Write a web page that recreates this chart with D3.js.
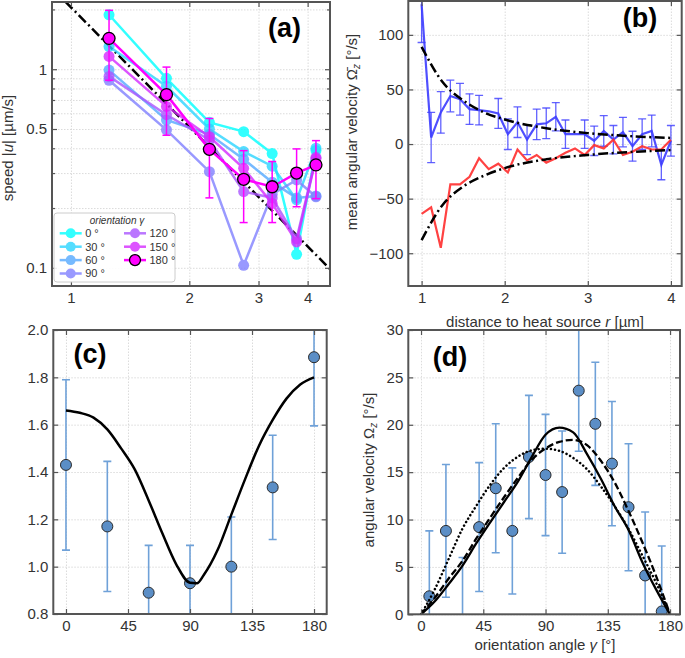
<!DOCTYPE html>
<html>
<head>
<meta charset="utf-8">
<script src="https://cdn.jsdelivr.net/npm/d3@7"></script>
<style>
  body { margin: 0; background: #fff; }
  svg text { font-family: "Liberation Sans", Arial, Helvetica, sans-serif; }
</style>
</head>
<body>
<svg id="fig" width="685" height="658"></svg>
<script>
// ---------- (a) speed vs distance, one list per orientation ----------
var orientA = [0, 30, 60, 90, 120, 150, 180]
var rA = [1.25, 1.75, 2.25, 2.75, 3.25, 3.75, 4.2]
var speed0   = [1.88, 0.90, 0.54, 0.485, 0.376, 0.117, 0.39]
var speed30  = [1.30, 0.82, 0.50, 0.385, 0.325, 0.22, 0.40]
var speed60  = [0.99, 0.555, 0.47, 0.352, 0.27, 0.225, 0.23]
var speed90  = [0.88, 0.495, 0.305, 0.103, 0.235, 0.277, 0.228]
var speed120 = [0.92, 0.59, 0.44, 0.242, 0.225, 0.14, 0.36]
var speed150 = [1.16, 0.65, 0.457, 0.317, 0.211, 0.135, 0.355]
var speed180 = [1.43, 0.745, 0.395, 0.279, 0.256, 0.30, 0.33]
var speed180Err = [0.55, 0.28, 0.17, 0.11, 0.087, 0.097, 0.107]
var fitRA = [0.895, 4.56]
var fitSpeed = [2.56, 0.0986]

// ---------- (b) mean angular velocity vs distance ----------
var rB = [1.000, 1.115, 1.231, 1.346, 1.462, 1.577, 1.692, 1.808, 1.923, 2.038, 2.154, 2.269, 2.385, 2.500,
          2.615, 2.731, 2.846, 2.962, 3.077, 3.192, 3.308, 3.423, 3.538, 3.654, 3.769, 3.885, 4.000]
var omegaBlue = [128, 6, 29, 44, 41, 32, 31, 30, 28, 9, 20, 4, 18, 19, 25, 9, 9, 9, 3, 12, 4, 11, -2, 9, 12, -19, 3]
var omegaBlueErr = [35, 23, 19, 14.5, 14.5, 14, 13.5, null, 13.7, 14, 14, 13.7, 14, 14, 13, 13, null, 13, 13.5, 14, 13, 13.5, 13.7, 14, 14.5, 13.7, 14]
var omegaRed = [-64, -58, -95, -37, -37, -30, -13, -23, -18, -26, -5, -15, -10, -17, -13, -8, -4, -10, -1, -4, 4, -10, -7, -2, -5, -5, 4]
var fitRB = [1, 1.25, 1.5, 1.75, 2, 2.5, 3, 3.5, 4]
var fitBlue = [89, 57, 40, 29, 22.5, 14.5, 10, 7.3, 5.6]
var fitRed = [-88, -56, -39, -29, -22, -14, -10, -7.3, -5.5]

// ---------- (c) ----------
var gammaC = [0, 30, 60, 90, 120, 150, 180]
var valueC = [1.43, 1.17, 0.89, 0.93, 1.00, 1.335, 1.885]
var valueCErr = [0.36, 0.275, 0.20, 0.16, 0.21, 0.22, 0.29]
var fitGammaC = [0, 10, 20, 30, 40, 50, 60, 70, 80, 90, 95, 100, 110, 120, 130, 140, 150, 160, 170, 180]
var fitC = [1.66, 1.65, 1.63, 1.58, 1.50, 1.41, 1.28, 1.14, 1.01, 0.932, 0.93, 0.965, 1.07, 1.22, 1.37, 1.51, 1.62, 1.71, 1.77, 1.80]

// ---------- (d) angular velocity vs orientation ----------
var gammaD = [6, 18, 30, 42, 54, 66, 78, 90, 102, 114, 126, 138, 150, 162, 174]
var omegaD = [1.9, 8.8, -1.0, 9.2, 13.3, 8.8, 16.6, 14.7, 12.9, 23.6, 20.1, 15.9, 11.3, 4.1, 0.3]
var omegaDErr = [6.9, 7.0, 7.0, 6.8, 6.8, 6.65, 6.5, 6.4, 6.45, 6.4, 6.5, 6.55, 6.7, 6.7, 6.9]
var fitGammaD = [0, 10, 20, 30, 40, 50, 60, 70, 80, 90, 100, 110, 120, 130, 140, 150, 160, 170, 180]
var fitSolid  = [0, 1.37, 3.2, 5.14, 7.5, 9.7, 11.85, 14.0, 16.6, 18.95, 19.7, 19.2, 16.9, 14.3, 11.4, 8.9, 5.5, 2.6, 0]
var fitDashed = [0, 1.75, 3.78, 5.64, 8.0, 10.2, 12.35, 14.4, 16.3, 17.5, 18.2, 18.4, 17.85, 16.2, 13.9, 10.9, 7.6, 4.0, 0]
var fitDotted = [0, 2.65, 5.85, 9.05, 11.46, 13.67, 15.44, 16.63, 17.3, 17.47, 17.25, 16.5, 15.3, 13.5, 11.4, 9.0, 6.2, 3.3, 0]

var svg = d3.select('#fig')
var textCol = '#333'
var dashDot = '10,3.5,2,3.5'

function zip(a, b) { return a.map((v, i) => [v, b[i]]) }

function makeClip(id, x, y) {
  svg.append('clipPath').attr('id', id).append('rect')
    .attr('x', x.range()[0]).attr('y', y.range()[1])
    .attr('width', x.range()[1] - x.range()[0]).attr('height', y.range()[0] - y.range()[1])
}

// dotted grid lines through the axis generator
function grid(x, y, xs, ys) {
  var g = svg.append('g')
  var w = x.range()[1] - x.range()[0], h = y.range()[0] - y.range()[1]
  g.append('g').attr('transform', 'translate(0,' + y.range()[0] + ')')
    .call(d3.axisBottom(x).tickValues(xs).tickSize(-h).tickFormat(''))
  g.append('g').attr('transform', 'translate(' + x.range()[0] + ',0)')
    .call(d3.axisLeft(y).tickValues(ys).tickSize(-w).tickFormat(''))
  g.selectAll('.domain').remove()
  g.selectAll('line').attr('stroke', '#d2d2d2').attr('stroke-width', 0.8).attr('stroke-dasharray', '1.5,1.5')
}

// inward ticks on all four sides, labels on bottom/left, then the frame
function frame(x, y, o) {
  var g = svg.append('g').attr('color', '#555')
  var l = x.range()[0], r = x.range()[1], b = y.range()[0], t = y.range()[1]
  var sides = [
    [d3.axisBottom, 'translate(0,' + b + ')', x, o.xTicks, o.xFmt, o.xMinor],
    [d3.axisTop, 'translate(0,' + t + ')', x, o.xTicks, null, o.xMinor],
    [d3.axisLeft, 'translate(' + l + ',0)', y, o.yTicks, o.yFmt, o.yMinor],
    [d3.axisRight, 'translate(' + r + ',0)', y, o.yTicks, null, o.yMinor]
  ]
  sides.forEach(function(s) {
    var ax = s[0](s[2]).tickValues(s[3]).tickSize(-5).tickPadding(s[0] === d3.axisBottom ? 6 : 5)
    ax.tickFormat(s[4] ? s[4] : '')
    var a = g.append('g').attr('transform', s[1]).call(ax)
    a.attr('font-size', 15).attr('font-family', '"Liberation Sans", Arial, sans-serif')
    a.select('.domain').remove()
    a.selectAll('text').attr('fill', textCol)
    if (s[5]) {
      var m = g.append('g').attr('transform', s[1]).call(s[0](s[2]).tickValues(s[5]).tickSize(-3).tickFormat(''))
      m.select('.domain').remove()
    }
  })
  g.selectAll('line').attr('stroke-width', 1.2)
  g.append('rect').attr('x', l).attr('y', t).attr('width', r - l).attr('height', b - t)
    .attr('fill', 'none').attr('stroke', '#555').attr('stroke-width', 2)
}

function errBars(g, xs, ys, es, x, y, color, cap, width) {
  xs.forEach(function(xv, i) {
    if (es[i] == null) return
    var cx = x(xv), y1 = y(ys[i] - es[i]), y2 = y(ys[i] + es[i])
    g.append('line').attr('x1', cx).attr('x2', cx).attr('y1', y1).attr('y2', y2)
      .attr('stroke', color).attr('stroke-width', width)
    ;[y1, y2].forEach(function(yy) {
      g.append('line').attr('x1', cx - cap / 2).attr('x2', cx + cap / 2).attr('y1', yy).attr('y2', yy)
        .attr('stroke', color).attr('stroke-width', width)
    })
  })
}

function panelLabel(txt, cx, by) {
  svg.append('text').attr('x', cx).attr('y', by).attr('text-anchor', 'middle')
    .attr('font-size', 27).attr('font-weight', 'bold').attr('fill', '#000').text(txt)
}

// =================== (a) ===================
var xA = d3.scaleLog().domain([0.895, 4.56]).range([52, 330])
var yA = d3.scaleLog().domain([0.081, 2.18]).range([286, 2])
makeClip('clipA', xA, yA)
grid(xA, yA, [1, 2, 3, 4], [0.1, 0.2, 0.3, 0.4, 0.5, 0.6, 0.7, 0.8, 0.9, 1, 2])

var speeds = [speed0, speed30, speed60, speed90, speed120, speed150, speed180]
function coolColor(t) { return d3.rgb(255 * t, 255 * (1 - t), 255).toString() }
var gA = svg.append('g').attr('clip-path', 'url(#clipA)')
var lineA = d3.line().x(d => xA(d[0])).y(d => yA(d[1]))

gA.append('path').datum(zip(fitRA, fitSpeed)).attr('d', lineA)
  .attr('fill', 'none').attr('stroke', '#000').attr('stroke-width', 2.5).attr('stroke-dasharray', dashDot)

speeds.forEach(function(s, k) {
  var col = coolColor(k / 6), last = k === 6
  var sg = gA.append('g').attr('opacity', last ? 1 : 0.8)
  if (last) errBars(sg, rA, s, speed180Err, xA, yA, '#ff00ff', 8, 1.5)
  sg.append('path').datum(zip(rA, s)).attr('d', lineA)
    .attr('fill', 'none').attr('stroke', col).attr('stroke-width', 2.5)
  sg.selectAll('circle').data(zip(rA, s)).join('circle')
    .attr('cx', d => xA(d[0])).attr('cy', d => yA(d[1])).attr('r', last ? 6 : 5.5)
    .attr('fill', col).attr('stroke', last ? '#000' : 'none').attr('stroke-width', 1.3)
})

frame(xA, yA, {
  xTicks: [1, 2, 3, 4], xFmt: d => d,
  yTicks: [0.1, 0.5, 1], yFmt: d => d, yMinor: [0.2, 0.3, 0.4, 0.6, 0.7, 0.8, 0.9, 2]
})

// legend
var leg = svg.append('g')
leg.append('rect').attr('x', 54).attr('y', 213).attr('width', 121).attr('height', 69).attr('rx', 3)
  .attr('fill', '#fff').attr('fill-opacity', 0.9).attr('stroke', '#ccc').attr('stroke-width', 1)
leg.append('text').attr('x', 117).attr('y', 223.5).attr('text-anchor', 'middle')
  .attr('font-size', 10).attr('font-style', 'italic').attr('fill', textCol).text('orientation γ')
orientA.forEach(function(o, k) {
  var cx = k < 4 ? 70.7 : 135, cy = 233.3 + (k % 4) * 13.4, col = coolColor(k / 6), last = k === 6
  var e = leg.append('g').attr('opacity', last ? 1 : 0.8)
  e.append('line').attr('x1', cx - 11).attr('x2', cx + 11).attr('y1', cy).attr('y2', cy)
    .attr('stroke', col).attr('stroke-width', 2.5)
  e.append('circle').attr('cx', cx).attr('cy', cy).attr('r', last ? 5.5 : 5)
    .attr('fill', col).attr('stroke', last ? '#000' : 'none').attr('stroke-width', 1.3)
  leg.append('text').attr('x', cx + 14.5).attr('y', cy).attr('dy', '0.36em')
    .attr('font-size', 11).attr('fill', textCol).text(o + ' °')
})

svg.append('text').attr('transform', 'translate(13,148) rotate(-90)').attr('text-anchor', 'middle')
  .attr('font-size', 15).attr('fill', textCol)
  .call(t => {
    t.append('tspan').text('speed |')
    t.append('tspan').attr('font-style', 'italic').text('u')
    t.append('tspan').text('| [µm/s]')
  })
panelLabel('(a)', 284.5, 36.5)

// =================== (b) ===================
var xB = d3.scaleLinear().domain([0.84, 4.13]).range([408.3, 681.7])
var yB = d3.scaleLinear().domain([-130, 131]).range([286, 1])
makeClip('clipB', xB, yB)
grid(xB, yB, [1, 2, 3, 4], [-100, -50, 0, 50, 100])
var gB = svg.append('g').attr('clip-path', 'url(#clipB)')
var lineB = d3.line().x(d => xB(d[0])).y(d => yB(d[1]))
var curveB = d3.line().curve(d3.curveMonotoneX).x(d => xB(d[0])).y(d => yB(d[1]))

errBars(gB, rB, omegaBlue, omegaBlueErr, xB, yB, 'rgba(70,70,255,0.85)', 8, 1.3)
gB.append('path').datum(zip(rB, omegaBlue)).attr('d', lineB)
  .attr('fill', 'none').attr('stroke', 'rgb(60,60,255)').attr('stroke-width', 2.2).attr('stroke-opacity', 0.9)
gB.append('path').datum(zip(rB, omegaRed)).attr('d', lineB)
  .attr('fill', 'none').attr('stroke', 'rgb(255,45,45)').attr('stroke-width', 2.2).attr('stroke-opacity', 0.9)
;[fitBlue, fitRed].forEach(function(f) {
  gB.append('path').datum(zip(fitRB, f)).attr('d', curveB)
    .attr('fill', 'none').attr('stroke', '#000').attr('stroke-width', 2.5).attr('stroke-dasharray', dashDot)
})

frame(xB, yB, {
  xTicks: [1, 2, 3, 4], xFmt: d => d,
  yTicks: [-100, -50, 0, 50, 100], yFmt: d3.format('d')
})
svg.append('text').attr('transform', 'translate(357,132) rotate(-90)').attr('text-anchor', 'middle')
  .attr('font-size', 15).attr('fill', textCol)
  .call(t => {
    t.append('tspan').text('mean angular velocity Ω\u0304')
    t.append('tspan').attr('font-size', 10).attr('font-style', 'italic').attr('dy', 3).text('z')
    t.append('tspan').attr('dy', -3).text(' [°/s]')
  })
svg.append('text').attr('x', 545).attr('y', 327).attr('text-anchor', 'middle')
  .attr('font-size', 15).attr('fill', textCol)
  .call(t => {
    t.append('tspan').text('distance to heat source ')
    t.append('tspan').attr('font-style', 'italic').text('r')
    t.append('tspan').text(' [µm]')
  })
panelLabel('(b)', 640, 26.5)

// =================== (c) ===================
var xC = d3.scaleLinear().domain([-9.2, 189.2]).range([53.3, 326.7])
var yC = d3.scaleLinear().domain([0.8, 2.0]).range([614, 330])
makeClip('clipC', xC, yC)
grid(xC, yC, [0, 45, 90, 135, 180], [0.8, 1.0, 1.2, 1.4, 1.6, 1.8, 2.0])
var gC = svg.append('g').attr('clip-path', 'url(#clipC)')
errBars(gC, gammaC, valueC, valueCErr, xC, yC, '#6fa1d8', 8, 1.6)
gC.selectAll('circle').data(zip(gammaC, valueC)).join('circle')
  .attr('cx', d => xC(d[0])).attr('cy', d => yC(d[1])).attr('r', 5.5)
  .attr('fill', '#5b8ec6').attr('stroke', '#2a2a2a').attr('stroke-width', 1)
gC.append('path').datum(zip(fitGammaC, fitC))
  .attr('d', d3.line().curve(d3.curveMonotoneX).x(d => xC(d[0])).y(d => yC(d[1])))
  .attr('fill', 'none').attr('stroke', '#000').attr('stroke-width', 2.5)
frame(xC, yC, {
  xTicks: [0, 45, 90, 135, 180], xFmt: d => d,
  yTicks: [0.8, 1.0, 1.2, 1.4, 1.6, 1.8, 2.0], yFmt: d3.format('.1f')
})
panelLabel('(c)', 90, 363)

// =================== (d) ===================
var xD = d3.scaleLinear().domain([-9.2, 187.2]).range([408.3, 680])
var yD = d3.scaleLinear().domain([0, 30]).range([614.3, 330])
makeClip('clipD', xD, yD)
grid(xD, yD, [0, 45, 90, 135, 180], [0, 5, 10, 15, 20, 25, 30])
var gD = svg.append('g').attr('clip-path', 'url(#clipD)')
errBars(gD, gammaD, omegaD, omegaDErr, xD, yD, '#6fa1d8', 8, 1.6)
gD.selectAll('circle').data(zip(gammaD, omegaD)).join('circle')
  .attr('cx', d => xD(d[0])).attr('cy', d => yD(d[1])).attr('r', 5.5)
  .attr('fill', '#5b8ec6').attr('stroke', '#2a2a2a').attr('stroke-width', 1)
var curveD = d3.line().curve(d3.curveMonotoneX).x(d => xD(d[0])).y(d => yD(d[1]))
gD.append('path').datum(zip(fitGammaD, fitDotted)).attr('d', curveD)
  .attr('fill', 'none').attr('stroke', '#000').attr('stroke-width', 2.5)
  .attr('stroke-dasharray', '0.1,4').attr('stroke-linecap', 'round')
gD.append('path').datum(zip(fitGammaD, fitDashed)).attr('d', curveD)
  .attr('fill', 'none').attr('stroke', '#000').attr('stroke-width', 2.3).attr('stroke-dasharray', '7,3')
gD.append('path').datum(zip(fitGammaD, fitSolid)).attr('d', curveD)
  .attr('fill', 'none').attr('stroke', '#000').attr('stroke-width', 2.3)
frame(xD, yD, {
  xTicks: [0, 45, 90, 135, 180], xFmt: d => d,
  yTicks: [0, 5, 10, 15, 20, 25, 30], yFmt: d => d
})
svg.append('text').attr('transform', 'translate(374,470) rotate(-90)').attr('text-anchor', 'middle')
  .attr('font-size', 15).attr('fill', textCol)
  .call(t => {
    t.append('tspan').text('angular velocity Ω')
    t.append('tspan').attr('font-size', 10).attr('font-style', 'italic').attr('dy', 3).text('z')
    t.append('tspan').attr('dy', -3).text(' [°/s]')
  })
svg.append('text').attr('x', 545).attr('y', 650).attr('text-anchor', 'middle')
  .attr('font-size', 15).attr('fill', textCol)
  .call(t => {
    t.append('tspan').text('orientation angle ')
    t.append('tspan').attr('font-style', 'italic').text('γ')
    t.append('tspan').text(' [°]')
  })
panelLabel('(d)', 450, 366)
</script>
</body>
</html>
